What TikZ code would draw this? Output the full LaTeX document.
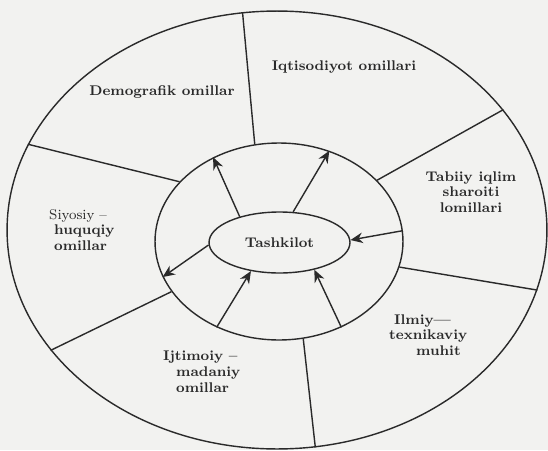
\documentclass[tikz,border=0pt]{standalone}
\usepackage{xcolor}
\usepackage{tikz}
\usetikzlibrary{positioning,shapes.geometric,arrows.meta}
\definecolor{cink}{RGB}{42,42,42}
\definecolor{cpaper}{RGB}{242,242,240}

\begin{document}
\begin{tikzpicture}[x=0.02cm, y=-0.02cm,
    >={Stealth[length=7pt,width=6pt]},
    % Ring styles
    ring/.style={draw=cink, ellipse, inner sep=0pt, line width=0.8pt},
    spoke/.style={draw=cink, line width=0.8pt},
    arrow/.style={->, draw=cink, fill=cink, line width=0.8pt},
    % Text styles
    lbl/.style={font=\fontsize{8}{9}\selectfont\bfseries, text=cink, align=center},
  ]

  % ===== Paper =====
  \fill[cpaper] (0,0) rectangle (548,450);
  \useasboundingbox (0,0) rectangle (548,450);

  % ===== Rings =====
  \node[ring, minimum width=10.8cm, minimum height=8.76cm] (outer) at (277,230) {};
  \node[ring, minimum width=4.96cm, minimum height=3.94cm] (mid) at (279,241.5) {};
  \node[ring, lbl, minimum width=2.82cm, minimum height=1.22cm] (org) at (279.5,242.5) {Tashkilot};

  % Spokes: middle ring -> outer ring
  \draw[spoke] (mid.104) -- (outer.99);
  \draw[spoke] (mid.149) -- (outer.161);
  \draw[spoke] (mid.32) -- (outer.28);
  \draw[spoke] (mid.-12) -- (outer.-13);
  \draw[spoke] (mid.205) -- (outer.208);
  \draw[spoke] (mid.284) -- (outer.280);

  % Arrows between Tashkilot and middle ring
  \draw[arrow] (org.147) -- (mid.128);
  \draw[arrow] (org.66) -- (mid.61);
  \draw[arrow] (mid.5) -- (org.2);
  \draw[arrow] (org.182) -- (mid.197);
  \draw[arrow] (mid.234) -- (org.225);
  \draw[arrow] (mid.306) -- (org.322);

  % ===== Sector labels =====
  \node[lbl] (demo) at (162,92) {Demografik omillar};
  \node[lbl] (econ) at (344,67) {Iqtisodiyot omillari};
  \node[lbl] (nature) at (471,192) {Tabiiy iqlim\\sharoiti\\lomillari};
  \node[lbl, align=left, anchor=west] (polit) at (43,230)
    {{\mdseries Siyosiy --}\\\hspace*{0.1cm}huquqiy\\\hspace*{0.1cm}omillar};
  \node[lbl, align=left, anchor=west] (social) at (157,372)
    {Ijtimoiy --\\\hspace*{0.26cm}madaniy\\\hspace*{0.26cm}omillar};
  \node[lbl, align=left, anchor=west] (tech) at (383,335)
    {\hspace*{0.1cm}Ilmiy---\\texnikaviy\\\hspace*{0.54cm}muhit};

\end{tikzpicture}
\end{document}
